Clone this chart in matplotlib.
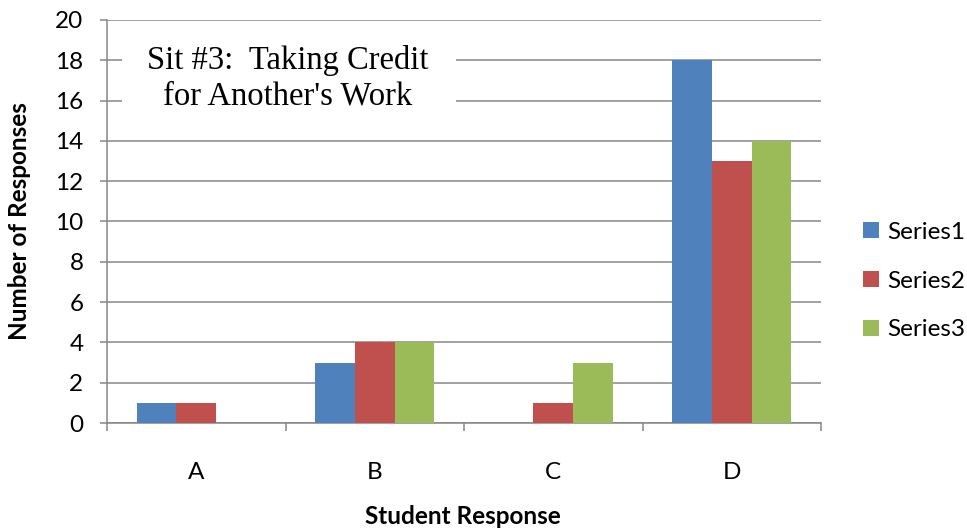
import matplotlib
matplotlib.use("Agg")
import matplotlib.pyplot as plt
from matplotlib.patches import Rectangle, Patch
from matplotlib.ticker import FixedLocator, NullFormatter
import numpy as np

categories = ["A", "B", "C", "D"]
series_names = ["Series1", "Series2", "Series3"]
series1 = [1, 3, 0, 18]
series2 = [1, 4, 1, 13]
series3 = [0, 4, 3, 14]
y_ticks = [0, 2, 4, 6, 8, 10, 12, 14, 16, 18, 20]

colors = ["#4F81BD", "#C0504D", "#9BBB59"]
grid_color = "#868686"

W, H = 967, 531
fig = plt.figure(figsize=(W / 100, H / 100), dpi=100)
ax = fig.add_axes([107 / W, (H - 423) / H, (821 - 107) / W, (423 - 20) / H])

n = len(categories)
centers = np.arange(n) + 0.5
bar_w = 1 / 4.5
for i, vals in enumerate([series1, series2, series3]):
    ax.bar(centers + (i - 1) * bar_w, vals, width=bar_w, color=colors[i],
           zorder=3, linewidth=0)

ax.set_xlim(0, n)
ax.set_ylim(0, 20)

# horizontal gridlines
ax.set_yticks(y_ticks)
ax.yaxis.grid(True, color=grid_color, linewidth=1.1, zorder=0.5)
ax.set_axisbelow(True)

for s in ["top", "right"]:
    ax.spines[s].set_visible(False)
for s in ["left", "bottom"]:
    ax.spines[s].set_color(grid_color)
    ax.spines[s].set_linewidth(1.1)

font = "Lato"
fs = 17.5
ax.tick_params(axis="y", direction="out", length=5, width=1.1, color=grid_color,
               labelsize=fs, pad=12)
for lbl in ax.get_yticklabels():
    lbl.set_fontfamily(font)

ax.set_xticks(centers)
ax.set_xticklabels(categories, fontsize=fs, fontfamily=font)
ax.tick_params(axis="x", which="major", length=0, pad=28)
ax.xaxis.set_minor_locator(FixedLocator(np.arange(n + 1)))
ax.xaxis.set_minor_formatter(NullFormatter())
ax.tick_params(axis="x", which="minor", direction="out", length=6, width=1.1,
               color=grid_color)

fig.text(20 / W, 1 - 221 / H, "Number of Responses", rotation=90,
         ha="center", va="center", fontsize=fs, fontweight="bold", fontfamily=font)
fig.text(463 / W, 1 - 517 / H, "Student Response", ha="center", va="center",
         fontsize=fs, fontweight="bold", fontfamily=font)

# white text box covering part of the upper gridlines
ax.add_patch(Rectangle((15 / 178.5, 14.9), (456 - 122) / 178.5, 4.3,
                       facecolor="white", edgecolor="none", zorder=2))
ax.text((288 - 107) / 178.5, (423 - 78) / 20.15,
        "Sit #3:  Taking Credit\nfor Another's Work",
        ha="center", va="center", fontsize=23.5, fontfamily="Liberation Serif",
        linespacing=1.2, zorder=4)

handles = [Patch(facecolor=c, edgecolor="none") for c in colors]
fig.legend(handles, series_names, loc="center left",
           bbox_to_anchor=(863 / W, 1 - 281 / H), frameon=False,
           prop={"family": font, "size": fs}, handlelength=0.65, handleheight=0.65,
           handletextpad=0.35, labelspacing=1.15, borderpad=0, borderaxespad=0)

fig.savefig("out.png", dpi=100)
